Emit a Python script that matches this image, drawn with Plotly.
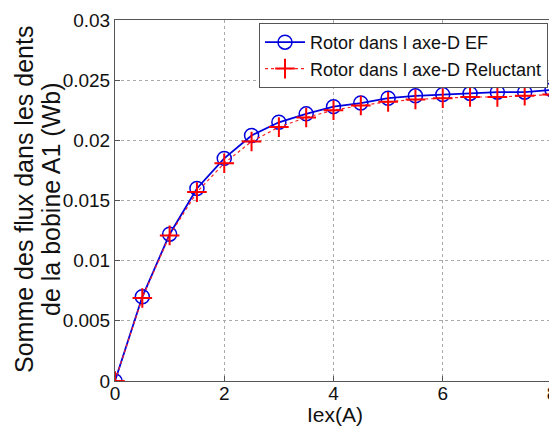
import plotly.graph_objects as go

iex = [0, 0.5, 1, 1.5, 2, 2.5, 3, 3.5, 4, 4.5, 5, 5.5, 6, 6.5, 7, 7.5, 8]
flux_ef = [0, 0.0070, 0.0122, 0.0160, 0.0185, 0.0204, 0.0215, 0.0222, 0.0228, 0.0231,
           0.0235, 0.0237, 0.0238, 0.0239, 0.0240, 0.0240, 0.0242]
flux_rel = [0, 0.0069, 0.0121, 0.0157, 0.0181, 0.0199, 0.0211, 0.0219, 0.0225, 0.0229,
            0.0232, 0.0234, 0.0235, 0.0236, 0.0236, 0.0237, 0.0238]
x_ticks = [0, 2, 4, 6, 8]
y_ticks = [0, 0.005, 0.01, 0.015, 0.02, 0.025, 0.03]
y_tick_labels = ["0", "0.005", "0.01", "0.015", "0.02", "0.025", "0.03"]
x_title = "Iex(A)"
y_title_lines = ["Somme des flux dans les dents", "de la bobine A1 (Wb)"]

font = "Liberation Sans, Arial, sans-serif"
# the page body adds an 8px offset; figure coordinates are shifted accordingly
OFF = 8
W, H = 557 - OFF, 428 - OFF
PL, PR, PT, PB = 115, 552, 20, 381  # plot area in page pixels
L, R, T, B = PL - OFF, W - (PR - OFF), PT - OFF, H - (PB - OFF)
pw = PR - PL
ph = PB - PT


def px(xp):
    return (xp - PL) / pw


def py(yp):
    return (PB - yp) / ph


fig = go.Figure()
fig.add_trace(go.Scatter(
    x=iex, y=flux_ef, mode="lines+markers", name="Rotor dans l axe-D EF",
    line=dict(color="#0000dd", width=1.8),
    marker=dict(symbol="circle-open", size=14, color="#0000dd", line=dict(width=1.5)),
))
fig.add_trace(go.Scatter(
    x=iex, y=flux_rel, mode="lines+markers", name="Rotor dans l axe-D Reluctant",
    line=dict(color="#ff2020", width=1.2, dash="dot"),
    marker=dict(symbol="cross-thin-open", size=14, color="#ff0000", line=dict(width=2, color="#ff0000")),
))

axis_common = dict(
    showline=True, linecolor="#555555", linewidth=1, mirror=True,
    ticks="inside", ticklen=5, tickcolor="#555555",
    showgrid=True, gridcolor="#aaaaaa", griddash="dot", gridwidth=1,
    zeroline=False, tickfont=dict(family=font, size=19, color="#111111"),
    automargin=False, ticklabeloverflow="allow",
)

annotations = [
    dict(text=x_title, xref="paper", yref="paper", x=px(335), y=py(414),
         xanchor="center", yanchor="middle", showarrow=False,
         font=dict(family=font, size=21, color="#111111")),
]
for line, xc in zip(y_title_lines, [24, 51]):
    annotations.append(dict(
        text=line, xref="paper", yref="paper", x=px(xc), y=py(200),
        xanchor="center", yanchor="middle", showarrow=False, textangle=-90,
        font=dict(family=font, size=25, color="#111111")))

fig.update_layout(
    width=W, height=H,
    paper_bgcolor="white", plot_bgcolor="white",
    margin=dict(l=L, r=R, t=T, b=B),
    showlegend=True,
    legend=dict(
        x=px(548), y=py(23), xanchor="right", yanchor="top",
        bgcolor="white", bordercolor="#555555", borderwidth=1,
        font=dict(family=font, size=18, color="#111111"),
        tracegroupgap=0, itemwidth=40,
    ),
    xaxis=dict(range=[0, 8], tickvals=x_ticks, ticklabelstandoff=-5, **axis_common),
    yaxis=dict(range=[0, 0.03], tickvals=y_ticks, ticktext=y_tick_labels, **axis_common),
    annotations=annotations,
)

fig.write_html("out.html")
